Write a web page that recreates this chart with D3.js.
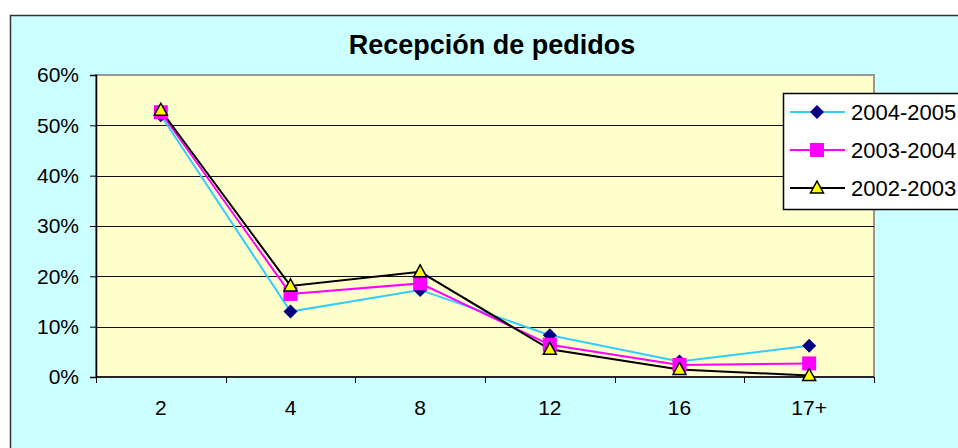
<!DOCTYPE html>
<html>
<head>
<meta charset="utf-8">
<script src="https://cdn.jsdelivr.net/npm/d3@7"></script>
<style>
  body { margin: 0; background: #fff; }
  svg { display: block; font-family: "Liberation Sans", Arial, sans-serif; }
</style>
</head>
<body>
<svg width="958" height="448"></svg>
<script>
var categories = ['2', '4', '8', '12', '16', '17+'];
var s0405 = [0.52, 0.130, 0.173, 0.083, 0.031, 0.062]; // 2004-2005
var s0304 = [0.526, 0.165, 0.186, 0.064, 0.024, 0.027]; // 2003-2004
var s0203 = [0.530, 0.181, 0.209, 0.055, 0.015, 0.003]; // 2002-2003
var seriesNames = ['2004-2005', '2003-2004', '2002-2003'];
var yTicks = [0, 0.1, 0.2, 0.3, 0.4, 0.5, 0.6];

var svg = d3.select('svg');
var plot = {left: 96, right: 874, top: 75, bottom: 377};

var series = [
  {name: seriesNames[0], values: s0405, line: '#33ccff', marker: 'diamond'},
  {name: seriesNames[1], values: s0304, line: '#ff00ff', marker: 'square'},
  {name: seriesNames[2], values: s0203, line: '#000000', marker: 'triangle'}
];

var x = d3.scaleBand()
    .domain(categories)
    .range([plot.left, plot.right]);
var y = d3.scaleLinear()
    .domain([0, 0.6])
    .range([plot.bottom, plot.top]);

// chart area
svg.append('rect')
    .attr('x', 10.5).attr('y', 15.5)
    .attr('width', 1000).attr('height', 500)
    .attr('fill', '#ccffff')
    .attr('stroke', '#333')
    .attr('stroke-width', 1.5);

svg.append('text')
    .attr('x', 492).attr('y', 54)
    .attr('text-anchor', 'middle')
    .attr('font-size', 27)
    .attr('font-weight', 'bold')
    .text('Recepción de pedidos');

// plot area
svg.append('rect')
    .attr('x', plot.left).attr('y', plot.top)
    .attr('width', plot.right - plot.left).attr('height', plot.bottom - plot.top)
    .attr('fill', '#ffffcc')
    .attr('stroke', '#999')
    .attr('stroke-width', 2);

svg.selectAll('.grid')
    .data(yTicks.slice(1, -1)).enter().append('line')
    .attr('x1', plot.left).attr('x2', plot.right)
    .attr('y1', function(d){ return Math.round(y(d)) + 0.5; })
    .attr('y2', function(d){ return Math.round(y(d)) + 0.5; })
    .attr('stroke', '#111');

var yAxis = d3.axisLeft(y)
    .tickValues(yTicks)
    .tickFormat(d3.format('.0%'))
    .tickSize(6)
    .tickPadding(11);

var gy = svg.append('g')
    .attr('transform', 'translate(' + plot.left + ',0)')
    .call(yAxis);
gy.selectAll('text').attr('font-size', 21).attr('fill', '#000').attr('font-family', null);
gy.selectAll('line').attr('stroke', '#000');
gy.select('.domain').attr('stroke', '#000').attr('stroke-width', 1.5);

// x axis: ticks between categories, labels centred
var xTickPos = categories.map(function(c){ return x(c); }).concat([plot.right]);
svg.append('line')
    .attr('x1', plot.left).attr('x2', plot.right)
    .attr('y1', plot.bottom).attr('y2', plot.bottom)
    .attr('stroke', '#000').attr('stroke-width', 1.5);
svg.selectAll('.xtick')
    .data(xTickPos).enter().append('line')
    .attr('x1', function(d){ return Math.round(d) + 0.5; })
    .attr('x2', function(d){ return Math.round(d) + 0.5; })
    .attr('y1', plot.bottom).attr('y2', plot.bottom + 6)
    .attr('stroke', '#000');
svg.selectAll('.xlabel')
    .data(categories).enter().append('text')
    .attr('x', function(d){ return x(d) + x.bandwidth() / 2; })
    .attr('y', 415)
    .attr('text-anchor', 'middle')
    .attr('font-size', 21)
    .text(function(d){ return d; });

var line = d3.line()
    .x(function(d, i){ return x(categories[i]) + x.bandwidth() / 2; })
    .y(function(d){ return y(d); });

series.forEach(function(s) {
  svg.append('path')
      .datum(s.values)
      .attr('fill', 'none')
      .attr('stroke', s.line)
      .attr('stroke-width', 2)
      .attr('d', line);
});

function drawMarker(g, type, cx, cy) {
  if (type == 'diamond') {
    g.append('path')
        .attr('d', 'M' + cx + ',' + (cy - 7) + 'L' + (cx + 7) + ',' + cy + 'L' + cx + ',' + (cy + 7) + 'L' + (cx - 7) + ',' + cy + 'Z')
        .attr('fill', '#000080');
  } else if (type == 'square') {
    g.append('rect')
        .attr('x', cx - 7).attr('y', cy - 7)
        .attr('width', 14).attr('height', 14)
        .attr('fill', '#ff00ff');
  } else {
    g.append('path')
        .attr('d', 'M' + cx + ',' + (cy - 7) + 'L' + (cx + 6.5) + ',' + (cy + 5) + 'L' + (cx - 6.5) + ',' + (cy + 5) + 'Z')
        .attr('fill', '#ffff00')
        .attr('stroke', '#000')
        .attr('stroke-width', 1.5);
  }
}

series.forEach(function(s) {
  var g = svg.append('g');
  s.values.forEach(function(v, i) {
    drawMarker(g, s.marker, x(categories[i]) + x.bandwidth() / 2, y(v));
  });
});

// legend
svg.append('rect')
    .attr('x', 783.5).attr('y', 93.5)
    .attr('width', 200).attr('height', 116)
    .attr('fill', '#fff')
    .attr('stroke', '#000')
    .attr('stroke-width', 1.5);

var legendY = [112, 150, 188];
series.forEach(function(s, i) {
  var g = svg.append('g');
  g.append('line')
      .attr('x1', 790).attr('x2', 845)
      .attr('y1', legendY[i]).attr('y2', legendY[i])
      .attr('stroke', s.line).attr('stroke-width', 2);
  drawMarker(g, s.marker, 817, legendY[i]);
  g.append('text')
      .attr('x', 851).attr('y', legendY[i] + 8)
      .attr('font-size', 22)
      .text(s.name);
});
</script>
</body>
</html>
